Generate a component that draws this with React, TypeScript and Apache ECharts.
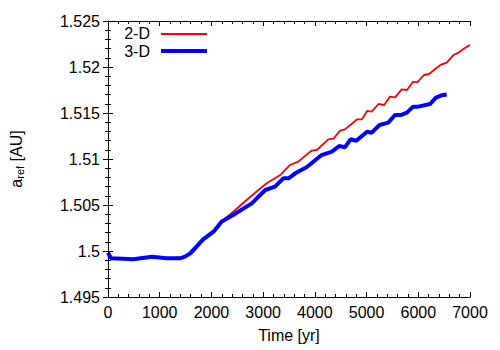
import React, { useEffect, useRef } from "react";
import * as echarts from "echarts";

const time2D = [0, 50, 250, 500, 850, 1150, 1500, 1650, 1850, 2040, 2230, 2450, 2680, 2880, 3070, 3330, 3520, 3680, 3910, 3940, 4040, 4260, 4360, 4490, 4580, 4710, 4810, 4910, 5010, 5100, 5230, 5340, 5450, 5550, 5680, 5780, 5900, 5980, 6110, 6210, 6320, 6450, 6550, 6680, 6780, 6900, 7000];
const a2D = [1.4998, 1.4992, 1.4992, 1.4991, 1.49938, 1.4992, 1.49935, 1.4999, 1.50127, 1.5021, 1.50337, 1.5044, 1.50554, 1.5065, 1.50736, 1.50826, 1.50935, 1.50971, 1.5108, 1.51091, 1.51098, 1.51214, 1.51221, 1.51308, 1.51322, 1.5138, 1.51431, 1.51431, 1.51522, 1.51514, 1.51598, 1.51587, 1.51677, 1.5167, 1.51757, 1.5175, 1.5184, 1.51833, 1.51913, 1.51924, 1.51975, 1.52029, 1.52047, 1.5213, 1.52156, 1.52207, 1.52239];

const time3D = [0, 60, 490, 845, 1135, 1390, 1490, 1590, 1840, 2040, 2200, 2420, 2780, 3040, 3230, 3390, 3490, 3620, 3840, 4035, 4130, 4330, 4470, 4580, 4690, 4800, 5010, 5100, 5250, 5420, 5550, 5660, 5780, 5900, 6000, 6230, 6340, 6450, 6550];
const a3D = [1.4998, 1.4992, 1.4991, 1.49938, 1.4992, 1.4992, 1.49938, 1.49975, 1.50127, 1.5021, 1.5032, 1.50391, 1.50518, 1.50663, 1.50699, 1.5079, 1.5079, 1.50844, 1.5091, 1.51, 1.51043, 1.5108, 1.51141, 1.51127, 1.51214, 1.51199, 1.51297, 1.51286, 1.5137, 1.51395, 1.51478, 1.51478, 1.51504, 1.51569, 1.51569, 1.51598, 1.51667, 1.51692, 1.517];

const seriesNames = ["2-D", "3-D"];
const xMin = 0, xMax = 7000, xStep = 1000;
const yMin = 1.495, yMax = 1.525, yStep = 0.005;

const FONT = "'Liberation Sans', Arial, sans-serif";

export default function App() {
  const ref = useRef<HTMLDivElement>(null);
  useEffect(() => {
    const chart = echarts.init(ref.current!, undefined, { renderer: "svg" });
    const tickCommon = {
      axisLine: { show: true, lineStyle: { color: "#000", width: 1 } },
      axisTick: { show: true, inside: true, length: 5, lineStyle: { color: "#000" } },
      minorTick: { show: true, splitNumber: 5, length: 3, lineStyle: { color: "#000" } },
      splitLine: { show: false },
      minorSplitLine: { show: false },
    };
    chart.setOption({
      animation: false,
      backgroundColor: "#fff",
      textStyle: { fontFamily: FONT },
      grid: { left: 108, right: 30, top: 21, bottom: 53, containLabel: false },
      xAxis: [
        {
          type: "value", min: xMin, max: xMax, interval: xStep, position: "bottom",
          ...tickCommon,
          axisLabel: { color: "#000", fontSize: 16, margin: 7, fontFamily: FONT, formatter: (v: number) => String(v) },
          name: "Time [yr]", nameLocation: "middle", nameGap: 30,
          nameTextStyle: { color: "#000", fontSize: 16, fontFamily: FONT },
        },
        {
          type: "value", min: xMin, max: xMax, interval: xStep, position: "top",
          ...tickCommon, axisLabel: { show: false },
        },
      ],
      yAxis: [
        {
          type: "value", min: yMin, max: yMax, interval: yStep, position: "left",
          ...tickCommon,
          axisLabel: { color: "#000", fontSize: 16, margin: 8, fontFamily: FONT },
          name: "{a|a}{s|ref}{a| [AU]}", nameLocation: "middle", nameGap: 83, nameRotate: 90,
          nameTextStyle: {
            color: "#000", fontFamily: FONT,
            rich: {
              a: { fontSize: 16, color: "#000", fontFamily: FONT },
              s: { fontSize: 11, color: "#000", fontFamily: FONT, verticalAlign: "bottom", padding: [6, 0, 0, 0] },
            },
          },
        },
        {
          type: "value", min: yMin, max: yMax, interval: yStep, position: "right",
          ...tickCommon, axisLabel: { show: false },
        },
      ],
      series: [
        {
          name: seriesNames[0], type: "line", xAxisIndex: 0, yAxisIndex: 0,
          data: time2D.map((t, i) => [t, a2D[i]]),
          symbol: "none", lineStyle: { color: "#ff0000", width: 1.8 }, itemStyle: { color: "#ff0000" },
        },
        {
          name: seriesNames[1], type: "line", xAxisIndex: 0, yAxisIndex: 0,
          data: time3D.map((t, i) => [t, a3D[i]]),
          symbol: "none", lineStyle: { color: "#0000ff", width: 4 }, itemStyle: { color: "#0000ff" },
        },
      ],
      graphic: [
        { type: "text", x: 150, y: 33, style: { text: seriesNames[0], fill: "#000", font: `16px ${FONT}`, textAlign: "right", textVerticalAlign: "middle" } },
        { type: "line", shape: { x1: 161, y1: 34, x2: 207, y2: 34 }, style: { stroke: "#ff0000", lineWidth: 1.8 } },
        { type: "text", x: 150, y: 51, style: { text: seriesNames[1], fill: "#000", font: `16px ${FONT}`, textAlign: "right", textVerticalAlign: "middle" } },
        { type: "line", shape: { x1: 161, y1: 51, x2: 207, y2: 51 }, style: { stroke: "#0000ff", lineWidth: 4 } },
      ],
    });
    return () => chart.dispose();
  }, []);
  return (
    <div
      ref={ref}
      style={{ position: "absolute", left: 0, top: 0, width: 500, height: 350 }}
    />
  );
}
